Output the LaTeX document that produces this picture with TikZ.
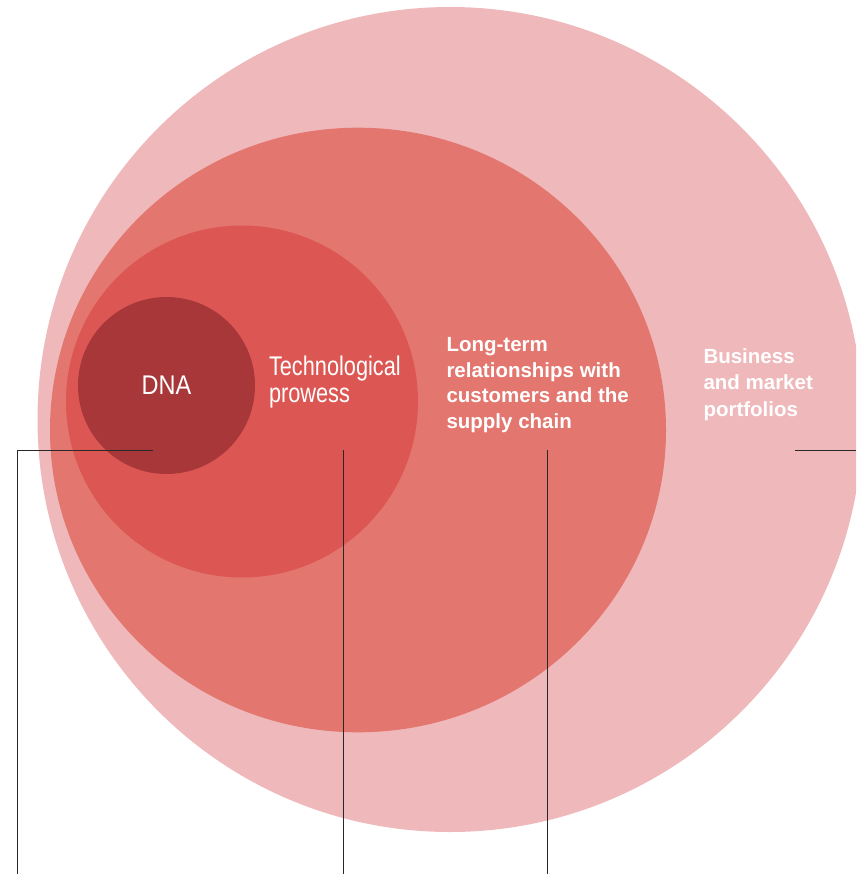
\documentclass[tikz,border=0pt]{standalone}
\usepackage{fontspec}
\setmainfont{Liberation Sans}
\newfontfamily\dnafont[FakeStretch=0.87]{Liberation Sans}
\newfontfamily\techfont[FakeStretch=0.805]{Liberation Sans}
\definecolor{ringA}{RGB}{239,184,187}
\definecolor{ringB}{RGB}{227,119,111}
\definecolor{ringC}{RGB}{220,87,83}
\definecolor{ringD}{RGB}{168,55,58}
\definecolor{leader}{RGB}{40,40,40}
\tikzset{
  lbl/.style={text=white, inner sep=0pt, outer sep=0pt, align=left, anchor=base west},
  leaderline/.style={draw=leader, line width=0.9pt}
}
\begin{document}
\begin{tikzpicture}[x=1pt, y=-1pt]
\useasboundingbox (0,0) rectangle (856,874);
\clip (0,0) rectangle (856,874);
% circles
\fill[ringA] (450,419.5) circle (412.5);
\fill[ringB] (358,430) ellipse [x radius=308, y radius=302.3];
\fill[ringC] (242,401.5) circle (176);
\fill[ringD] (166.5,385.5) circle (88.5);
% labels (anchored at the baseline of the last line)
\node[text=white, inner sep=0pt, anchor=base, font=\dnafont\fontsize{27}{27}\selectfont] (dna) at (166.5,394) {DNA};
\node[lbl, font=\techfont\fontsize{27}{27}\selectfont] (tech) at (269,402)
  {Technological\\prowess};
\node[lbl, font=\fontsize{20.5}{25.5}\selectfont\bfseries] (ltr) at (446.5,428)
  {Long-term\\relationships with\\customers and the\\supply chain};
\node[lbl, font=\fontsize{20.5}{26.5}\selectfont\bfseries] (bmp) at (703.5,416)
  {Business\\and market\\portfolios};
% leader line end points
\coordinate (dnaL) at (153,450.3);
\coordinate (dnaC) at (17.5,450.3);
\coordinate (dnaB) at (17.5,874);
\coordinate (techT) at (343,450.3);
\coordinate (techB) at (343,874);
\coordinate (ltrT) at (547.6,450.3);
\coordinate (ltrB) at (547.6,874);
\coordinate (bmpL) at (795,450.3);
\coordinate (bmpR) at (856,450.3);
\draw[leaderline] (dnaL) -- (dnaC) -- (dnaB);
\draw[leaderline] (techT) -- (techB);
\draw[leaderline] (ltrT) -- (ltrB);
\draw[leaderline] (bmpL) -- (bmpR);
\end{tikzpicture}
\end{document}
